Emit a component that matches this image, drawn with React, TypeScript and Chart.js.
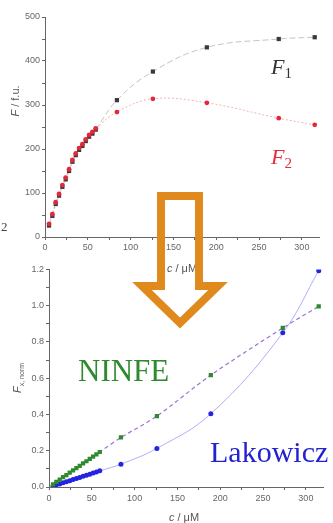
import React, { useEffect, useRef } from "react";
import { Chart, registerables } from "chart.js";
Chart.register(...registerables);

// concentrations (µM)
const concentrations = [4.7, 8.6, 12.5, 16.4, 20.3, 24.2, 28.1, 32, 35.9, 39.8, 43.7, 47.6, 51.5, 55.4, 59.3, 84, 126, 189, 273, 315];
// top panel: fluorescence F / f.u.
const f1Values = [26, 48, 75, 94, 114, 131, 150, 171, 186, 198, 207, 218, 228, 235, 244, 311, 376, 431, 450, 454];
const f2Values = [30, 52, 79, 98, 118, 135, 154, 175, 190, 202, 211, 222, 232, 239, 247, 284, 314, 305, 270, 255];
// bottom panel: F x,norm
const ninfeValues = [0.015, 0.028, 0.041, 0.054, 0.066, 0.079, 0.092, 0.104, 0.117, 0.13, 0.142, 0.155, 0.168, 0.18, 0.193, 0.273, 0.391, 0.617, 0.877, 0.996];
const lakowiczValues = [0.006, 0.012, 0.017, 0.023, 0.029, 0.035, 0.041, 0.047, 0.053, 0.059, 0.065, 0.071, 0.077, 0.083, 0.089, 0.126, 0.213, 0.404, 0.85, 1.193];

// ticks
const xTickValues = [0, 25, 50, 75, 100, 125, 150, 175, 200, 225, 250, 275, 300];
const xTickLabels = ["0", "", "50", "", "100", "", "150", "", "200", "", "250", "", "300"];
const topYTickValues = [0, 50, 100, 150, 200, 250, 300, 350, 400, 450, 500];
const topYTickLabels = ["0", "", "100", "", "200", "", "300", "", "400", "", "500"];
const botYTickValues = [0, 0.1, 0.2, 0.3, 0.4, 0.5, 0.6, 0.7, 0.8, 0.9, 1.0, 1.1, 1.2];
const botYTickLabels = ["0.0", "", "0.2", "", "0.4", "", "0.6", "", "0.8", "", "1.0", "", "1.2"];

const AXIS = "#666";
const TICKFONT = { family: "'Liberation Sans', Arial, sans-serif", size: 9 };

function pts(vals: number[]) {
  return concentrations.map((c, i) => ({ x: c, y: vals[i] }));
}

function axis(values: number[], labels: string[], min: number, max: number, fit: (s: any) => void, pad: number) {
  return {
    type: "linear" as const,
    min,
    max,
    afterBuildTicks: (s: any) => {
      s.ticks = values.map((v) => ({ value: v }));
    },
    afterFit: fit,
    grid: { drawOnChartArea: false, drawTicks: true, tickLength: 3, color: AXIS },
    border: { display: true, color: AXIS, width: 1 },
    ticks: {
      font: TICKFONT,
      color: "#666",
      padding: pad,
      autoSkip: false,
      maxRotation: 0,
      callback: (v: any) => {
        const idx = values.findIndex((t) => Math.abs(t - Number(v)) < 1e-9);
        return idx >= 0 ? labels[idx] : "";
      },
    },
  };
}

export default function App() {
  const topRef = useRef<HTMLCanvasElement>(null);
  const botRef = useRef<HTMLCanvasElement>(null);

  useEffect(() => {
    const top = new Chart(topRef.current!, {
      type: "line",
      data: {
        datasets: [
          {
            label: "F1",
            data: pts(f1Values),
            order: 2,
            borderColor: "rgba(120,120,120,0.55)",
            borderWidth: 0.8,
            borderDash: [6, 3],
            tension: 0.4,
            pointStyle: "rect",
            pointRadius: 3,
            pointBackgroundColor: "#3a3a3a",
            pointBorderWidth: 0,
          },
          {
            label: "F2",
            data: pts(f2Values),
            order: 1,
            borderColor: "rgba(235,90,100,0.6)",
            borderWidth: 0.8,
            borderDash: [2, 2],
            tension: 0.4,
            pointStyle: "circle",
            pointRadius: 2.4,
            pointBackgroundColor: "#e4283a",
            pointBorderWidth: 0,
          },
        ],
      },
      options: {
        animation: false,
        responsive: false,
        maintainAspectRatio: false,
        layout: { padding: { top: 17, right: 14, left: 0, bottom: 0 } },
        plugins: { legend: { display: false }, tooltip: { enabled: false } },
        scales: {
          x: axis(xTickValues, xTickLabels, 0, 320, (s: any) => { s.height = 25; }, 2),
          y: axis(topYTickValues, topYTickLabels, 0, 500, (s: any) => { s.width = 45; }, 2),
        },
      },
    });

    const bot = new Chart(botRef.current!, {
      type: "line",
      data: {
        datasets: [
          {
            label: "NINFE",
            data: pts(ninfeValues),
            borderColor: "rgba(140,90,200,0.85)",
            borderWidth: 1.2,
            borderDash: [4, 3],
            tension: 0.3,
            pointStyle: "rect",
            pointRadius: 3,
            pointBackgroundColor: "#2e8a2e",
            pointBorderWidth: 0,
          },
          {
            label: "Lakowicz",
            data: pts(lakowiczValues),
            borderColor: "rgba(120,120,255,0.75)",
            borderWidth: 0.8,
            tension: 0.4,
            pointStyle: "circle",
            pointRadius: 2.5,
            pointBackgroundColor: "#2323e0",
            pointBorderWidth: 0,
          },
        ],
      },
      options: {
        animation: false,
        responsive: false,
        maintainAspectRatio: false,
        layout: { padding: { top: 6, right: 10, left: 0, bottom: 0 } },
        plugins: { legend: { display: false }, tooltip: { enabled: false } },
        scales: {
          x: axis(xTickValues, xTickLabels, 0, 320, (s: any) => { s.height = 36; }, 3),
          y: axis(botYTickValues, botYTickLabels, 0, 1.2, (s: any) => { s.width = 49; }, 2),
        },
      },
    });

    return () => {
      top.destroy();
      bot.destroy();
    };
  }, []);

  const sans = "'Liberation Sans', Arial, sans-serif";
  const serif = "'Liberation Serif', 'Times New Roman', serif";
  const abs = { position: "absolute" as const, whiteSpace: "nowrap" as const, lineHeight: 1 };

  return (
    <div style={{ position: "absolute", left: 0, top: 0, width: 333, height: 523, background: "#fff", overflow: "hidden" }}>
      <canvas ref={topRef} width={333} height={262} style={{ position: "absolute", left: 0, top: 0, width: 333, height: 262 }} />
      <canvas ref={botRef} width={333} height={261} style={{ position: "absolute", left: 0, top: 262, width: 333, height: 261 }} />

      {/* axis titles */}
      <div style={{ ...abs, left: 15, top: 101, transform: "translate(-50%,-50%) rotate(-90deg)", font: `11px ${sans}`, color: "#555" }}>
        <i>F</i> / f.u.
      </div>
      <div style={{ ...abs, left: 182, top: 268, transform: "translate(-50%,-50%)", font: `11px ${sans}`, color: "#555" }}>
        <i>c</i> / μM
      </div>
      <div style={{ ...abs, left: 17, top: 378, transform: "translate(-50%,-50%) rotate(-90deg)", font: `11px ${sans}`, color: "#555" }}>
        <i>F</i><span style={{ fontSize: 7, position: "relative", top: 3 }}>x, norm</span>
      </div>
      <div style={{ ...abs, left: 184, top: 517, transform: "translate(-50%,-50%)", font: `11px ${sans}`, color: "#555" }}>
        <i>c</i> / μM
      </div>

      {/* stray label at left edge */}
      <div style={{ ...abs, left: 1, top: 219, font: `13px ${serif}`, color: "#444" }}>2</div>

      {/* annotations */}
      <div style={{ ...abs, left: 271, top: 54, font: `italic 22px ${serif}`, color: "#333" }}>
        F<span style={{ fontStyle: "normal", fontSize: 15, position: "relative", top: 4 }}>1</span>
      </div>
      <div style={{ ...abs, left: 271, top: 144, font: `italic 22px ${serif}`, color: "#e0303c" }}>
        F<span style={{ fontStyle: "normal", fontSize: 15, position: "relative", top: 4 }}>2</span>
      </div>
      <div style={{ ...abs, left: 78, top: 353, font: `31px ${serif}`, color: "#2f8a2f" }}>NINFE</div>
      <div style={{ ...abs, left: 210, top: 435, font: `30px ${serif}`, color: "#2222d2" }}>Lakowicz</div>

      {/* arrow */}
      <svg width={333} height={523} style={{ position: "absolute", left: 0, top: 0, pointerEvents: "none" }}>
        <path
          d="M161,196 L199,196 L199,286 L218,286 L180,323 L142,286 L161,286 Z"
          fill="none"
          stroke="#e0891c"
          strokeWidth={8}
          strokeLinejoin="miter"
        />
      </svg>
    </div>
  );
}
